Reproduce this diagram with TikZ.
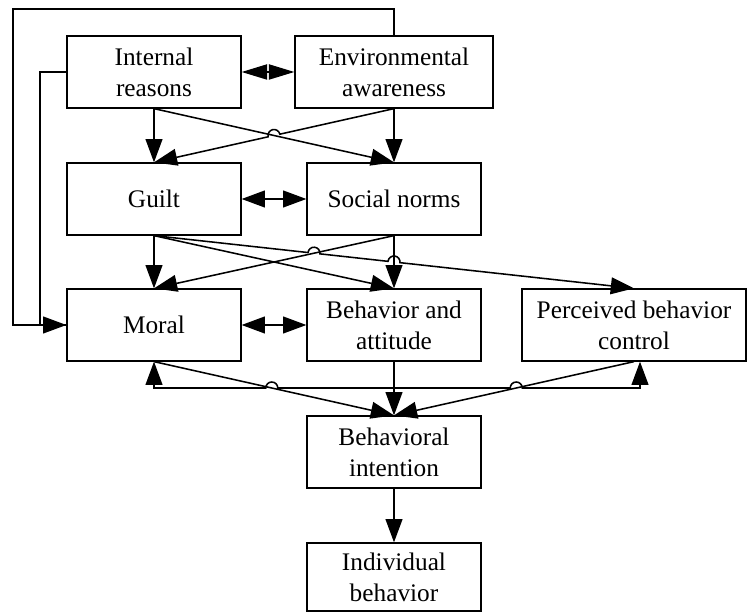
\documentclass[tikz,border=0pt]{standalone}
\usepackage{fontspec}
\setmainfont{Liberation Serif}
\usetikzlibrary{arrows.meta, calc, intersections}
\newcommand{\hopr}{0.15cm}
\tikzset{
  stage/.style={draw, line width=0.9pt, align=center, inner sep=0pt,
                minimum width=4.35cm, minimum height=1.8cm,
                font=\fontsize{18}{22}\selectfont},
  flowarrow/.style={-{Triangle[length=0.58cm, width=0.42cm]}, line width=1.1pt},
  twoway/.style={{Triangle[length=0.58cm, width=0.42cm]}-{Triangle[length=0.58cm, width=0.42cm]},
                 line width=1.1pt},
  wire/.style={line width=1.1pt},
}

\begin{document}
\begin{tikzpicture}
    \useasboundingbox (0, 0) rectangle (18.675, 15.3);

    \node[stage] (ir) at (3.85, 13.5) {Internal\\ reasons};
    \node[stage, minimum width=4.95cm] (ea) at (9.85, 13.5) {Environmental\\ awareness};

    \node[stage] (guilt) at (3.85, 10.325) {Guilt};
    \node[stage] (sn) at (9.85, 10.325) {Social norms};

    \node[stage] (moral) at (3.85, 7.175) {Moral};
    \node[stage] (ba) at (9.85, 7.175) {Behavior and\\ attitude};
    \node[stage, minimum width=5.6cm] (pbc) at (15.85, 7.175) {Perceived behavior\\ control};

    \node[stage] (bi) at (9.85, 4.0) {Behavioral\\ intention};
    \node[stage, minimum height=1.7cm] (ib) at (9.85, 0.875) {Individual\\ behavior};

    % corners of the two loops on the left and of the feedback line below
    \coordinate (topleft) at (0.32, 15.07);
    \coordinate (inl) at (1.0, 13.5);
    \coordinate (mb) at (3.85, 5.6);
    \coordinate (pb) at (16.0, 5.6);

    % crossings that get a hop
    \path[name path=eag] (ea.south) -- (guilt.north);
    \path[name path=irs] (ir.south) -- (sn.north);
    \path[name path=gp] (guilt.south) -- (pbc.north);
    \path[name path=snm] (sn.south) -- (moral.north);
    \path[name path=snb] (sn.south) -- (ba.north);
    \path[name path=mbi] (moral.south) -- (bi.north);
    \path[name path=pbi] (pbc.south) -- (bi.north);
    \path[name path=fb] (mb) -- (pb);
    \path[name intersections={of=eag and irs, by=x1}];
    \path[name intersections={of=gp and snm, by=g1}];
    \path[name intersections={of=gp and snb, by=g2}];
    \path[name intersections={of=mbi and fb, by=h1}];
    \path[name intersections={of=pbi and fb, by=h2}];

    % loops into Moral
    \draw[flowarrow] (ea.north) |- (topleft) |- (moral.west);
    \draw[wire] (ir.west) -- (inl) |- (moral.west);

    % first row
    \draw[twoway, {Triangle[length=0.64cm, width=0.38cm]}-{Triangle[length=0.64cm, width=0.38cm]}]
      (ir) -- (ea);
    \draw[flowarrow] (ir.south) -- (guilt.north);
    \draw[flowarrow] (ir.south) -- (sn.north);
    \draw[flowarrow] (ea.south) -- (sn.north);
    \draw[flowarrow] let \p1=($(ea.south)-(guilt.north)$), \n1={atan2(\y1,\x1)} in
      (ea.south) -- ($(x1)!\hopr!(ea.south)$)
      arc[start angle=\n1, end angle=\n1+180, radius=\hopr] -- (guilt.north);

    % second row
    \draw[twoway] (guilt) -- (sn);
    \draw[flowarrow] (guilt.south) -- (moral.north);
    \draw[flowarrow] (guilt.south) -- (ba.north);
    \draw[flowarrow] (sn.south) -- (moral.north);
    \draw[flowarrow] (sn.south) -- (ba.north);
    \draw[flowarrow] let \p1=($(pbc.north)-(guilt.south)$), \n1={atan2(\y1,\x1)} in
      (guilt.south) -- ($(g1)!\hopr!(guilt.south)$)
      arc[start angle=\n1+180, end angle=\n1, radius=\hopr]
      -- ($(g2)!\hopr!(guilt.south)$)
      arc[start angle=\n1+180, end angle=\n1, radius=\hopr] -- (pbc.north);

    % third row
    \draw[twoway] (moral) -- (ba);
    \draw[twoway] (moral.south) -- (mb) -- ($(h1)!\hopr!(mb)$)
      arc[start angle=180, end angle=0, radius=\hopr] -- ($(h2)!\hopr!(mb)$)
      arc[start angle=180, end angle=0, radius=\hopr] -- (pb) -- (pb |- pbc.south);
    \draw[flowarrow] (moral.south) -- (bi.north);
    \draw[flowarrow] (ba.south) -- (bi.north);
    \draw[flowarrow] (pbc.south) -- (bi.north);

    \draw[flowarrow] (bi) -- (ib);
\end{tikzpicture}
\end{document}
